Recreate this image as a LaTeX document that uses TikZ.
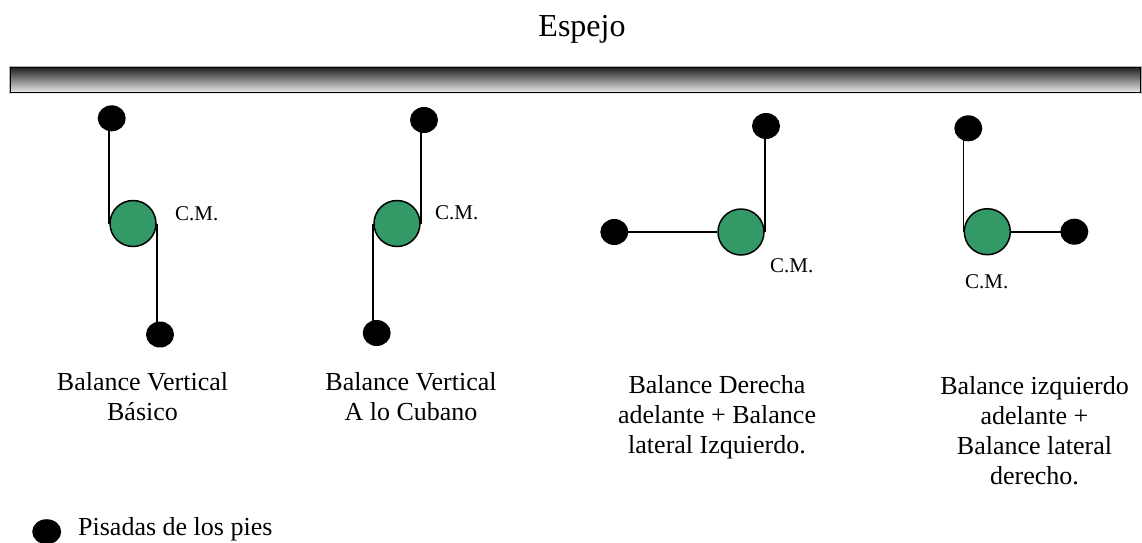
\documentclass[tikz,border=0pt]{standalone}
\usepackage{fontspec}
\setmainfont{Liberation Serif}
\usetikzlibrary{shapes.geometric}
\definecolor{cmgreen}{RGB}{51,153,102}
\begin{document}
\begin{tikzpicture}[x=1pt,y=-1pt,
  foot/.style={shape=ellipse, fill=black, minimum width=28pt, minimum height=26pt, inner sep=0pt},
  cmass/.style={circle, draw=black, line width=1.5pt, fill=cmgreen, minimum size=46pt, inner sep=0pt},
  leg/.style={line width=1.8pt},
  cmlabel/.style={font=\fontsize{21}{24}\selectfont, inner sep=0pt, anchor=base west},
  capt/.style={font=\fontsize{26}{30}\selectfont, align=center, inner sep=0pt, anchor=north}]
\useasboundingbox (0,0) rectangle (1142,542);
% title
\node[anchor=base, inner sep=0pt, font=\fontsize{32}{36}\selectfont] (title) at (582,36.7) {Espejo};
% mirror bar
\draw[gray!60, line width=0.8pt] (9.2,66.2) rectangle (1141.6,93.8);
\shade[top color=black!88, middle color=gray!55, bottom color=white!93!black] (10,67) rectangle (1141,93);
\draw[black, line width=1.6pt] (10.5,67.5) rectangle (1140.5,92.5);
% group 1
\node[cmass] (c1) at (133,223.5) {};
\node[foot] (f1a) at (111.7,118.3) {};
\node[foot] (f1b) at (160,334.5) {};
\draw[leg] (c1.west |- f1a.center) -- (c1.west);
\draw[leg] (c1.east) -- (c1.east |- f1b.center);
\node[cmlabel] (l1) at (175,220) {C.M.};
% group 2
\node[cmass] (c2) at (397,223.5) {};
\node[foot] (f2a) at (424,120) {};
\node[foot] (f2b) at (376.7,333) {};
\draw[leg] (c2.east |- f2a.center) -- (c2.east);
\draw[leg] (c2.west) -- (c2.west |- f2b.center);
\node[cmlabel] (l2) at (435,219) {C.M.};
% group 3
\node[cmass] (c3) at (741,232) {};
\node[foot] (f3a) at (614.3,232) {};
\node[foot] (f3b) at (766,126) {};
\draw[leg] (f3a.center) -- (c3.west);
\draw[leg] (c3.east |- f3b.center) -- (c3.east);
\node[cmlabel] (l3) at (770,272) {C.M.};
% group 4
\node[cmass] (c4) at (987.3,231.7) {};
\node[foot] (f4a) at (968.3,128.3) {};
\node[foot] (f4b) at (1074.3,231.7) {};
\draw[leg] (c4.west |- f4a.center) -- (c4.west);
\draw[leg] (c4.east) -- (f4b.center);
\node[cmlabel] (l4) at (965,288) {C.M.};
% captions
\node[capt] (t1) at (142.5,372) {Balance Vertical\\Básico};
\node[capt] (t2) at (411,372) {Balance Vertical\\A lo Cubano};
\node[capt] (t3) at (717,375) {Balance Derecha\\adelante + Balance\\lateral Izquierdo.};
\node[capt] (t4) at (1034.5,376) {Balance izquierdo\\adelante +\\Balance lateral\\derecho.};
% legend
\node[foot, minimum width=29pt, minimum height=25pt] (lg) at (46.7,531.7) {};
\node[anchor=base west, inner sep=0pt, font=\fontsize{26}{30}\selectfont] (lgt) at (78,535) {Pisadas de los pies};
\end{tikzpicture}
\end{document}
